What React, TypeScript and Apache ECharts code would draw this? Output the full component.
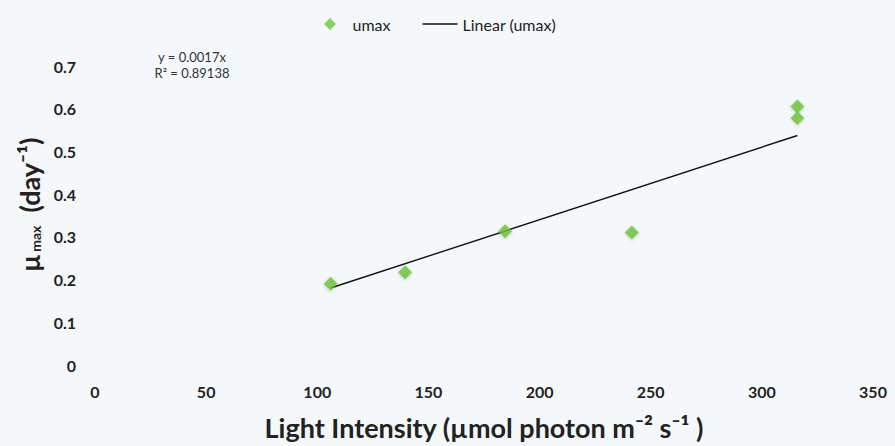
import React, { useEffect, useRef } from "react";
import * as echarts from "echarts";

const lightIntensity = [106, 139.5, 184.5, 241.5, 316, 316];
const umax = [0.19, 0.217, 0.313, 0.31, 0.605, 0.578];
const trendSlope = 0.0017;
const rSquared = 0.89138;
const xTicks = [0, 50, 100, 150, 200, 250, 300, 350];
const yTicks = [0, 0.1, 0.2, 0.3, 0.4, 0.5, 0.6, 0.7];

export default function App() {
  const ref = useRef<HTMLDivElement>(null);
  useEffect(() => {
    if (!ref.current) return;
    const chart = echarts.init(ref.current, undefined, { renderer: "svg" });
    const xMin = Math.min(...lightIntensity);
    const xMax = Math.max(...lightIntensity);
    const trend = [
      [xMin, trendSlope * xMin],
      [xMax, trendSlope * xMax],
    ];
    const font = "Lato, 'Open Sans', sans-serif";
    const green = "#6CC53A";
    chart.setOption({
      animation: false,
      backgroundColor: "#F4F8FB",
      textStyle: { fontFamily: font },
      grid: { left: 95, right: 22, top: 66, bottom: 80, containLabel: false },
      legend: {
        top: 11,
        left: 319,
        itemGap: 32,
        itemWidth: 35,
        itemHeight: 12,
        textStyle: { fontSize: 16, color: "#222", fontFamily: font },
        data: [
          {
            name: "umax",
            icon: "path://M5,0L10,5L5,10L0,5Z",
            itemStyle: { color: green },
          },
          {
            name: "Linear (umax)",
            icon: "path://M0,0H35V1.4H0Z",
            itemStyle: { color: "#111" },
          },
        ],
      },
      xAxis: {
        type: "value",
        min: xTicks[0],
        max: xTicks[xTicks.length - 1],
        interval: 50,
        axisLine: { show: false },
        axisTick: { show: false },
        splitLine: { show: false },
        axisLabel: {
          margin: 18,
          fontSize: 16,
          fontWeight: "bold",
          color: "#222",
          fontFamily: font,
        },
        name: "Light Intensity (µmol photon m⁻² s⁻¹ )",
        nameLocation: "middle",
        nameGap: 49,
        nameTextStyle: {
          fontSize: 27,
          fontWeight: "bold",
          color: "#222",
          fontFamily: font,
        },
      },
      yAxis: {
        type: "value",
        min: yTicks[0],
        max: yTicks[yTicks.length - 1],
        interval: 0.1,
        axisLine: { show: false },
        axisTick: { show: false },
        splitLine: { show: false },
        axisLabel: {
          margin: 19,
          fontSize: 16,
          fontWeight: "bold",
          color: "#222",
          fontFamily: font,
        },
        name: "{mu|μ}{sub| max}{b|  (day⁻¹)}",
        nameLocation: "middle",
        nameRotate: 90,
        nameGap: 47,
        nameTextStyle: {
          color: "#222",
          fontFamily: font,
          padding: [0, 0, 0, 22],
          rich: {
            mu: { fontSize: 27, fontWeight: "bold", color: "#222", fontFamily: font },
            sub: {
              fontSize: 14,
              fontWeight: "bold",
              color: "#222",
              fontFamily: font,
              verticalAlign: "bottom",
              padding: [12, 0, 0, 0],
            },
            b: { fontSize: 27, fontWeight: "bold", color: "#222", fontFamily: font },
          },
        },
      },
      graphic: [
        {
          type: "text",
          x: 192,
          y: 57,
          style: {
            text: "y = 0.0017x",
            font: `13px ${font}`,
            fill: "#333",
            textAlign: "center",
            textVerticalAlign: "middle",
          },
        },
        {
          type: "text",
          x: 192,
          y: 73,
          style: {
            text: `R² = ${rSquared}`,
            font: `13px ${font}`,
            fill: "#333",
            textAlign: "center",
            textVerticalAlign: "middle",
          },
        },
      ],
      series: [
        {
          name: "umax",
          type: "scatter",
          symbol: "diamond",
          symbolSize: 14,
          itemStyle: {
            color: green,
            shadowBlur: 3,
            shadowColor: "rgba(0,0,0,0.25)",
            shadowOffsetY: 1,
          },
          data: lightIntensity.map((x, i) => [x, umax[i]]),
          z: 3,
        },
        {
          name: "Linear (umax)",
          type: "line",
          symbol: "none",
          lineStyle: { color: "#111", width: 1.4 },
          itemStyle: { color: "#111" },
          data: trend,
          z: 2,
        },
      ],
    });
    return () => chart.dispose();
  }, []);
  return (
    <div
      ref={ref}
      style={{ position: "fixed", left: 0, top: 0, width: 895, height: 446 }}
    />
  );
}
